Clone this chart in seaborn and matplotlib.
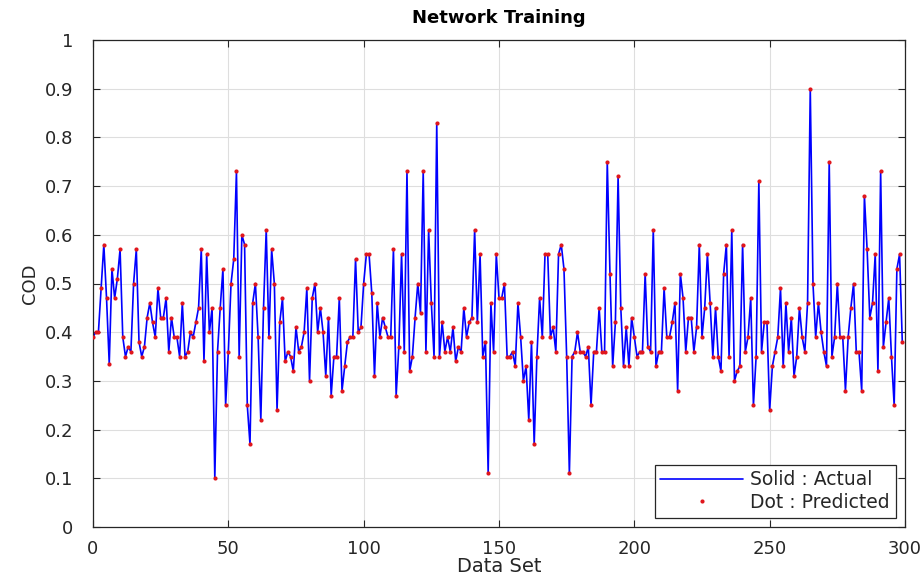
import numpy as np
import pandas as pd
import matplotlib
matplotlib.use("Agg")
import matplotlib.pyplot as plt
import seaborn as sns

cod_actual = [
    0.39, 0.40, 0.40, 0.49, 0.58, 0.47, 0.335, 0.53, 0.47, 0.51,
    0.57, 0.39, 0.35, 0.37, 0.36, 0.50, 0.57, 0.38, 0.35, 0.37,
    0.43, 0.46, 0.42, 0.39, 0.49, 0.43, 0.43, 0.47, 0.36, 0.43,
    0.39,
    0.39, 0.35, 0.46, 0.35, 0.36, 0.40, 0.39, 0.42, 0.45, 0.57,
    0.34, 0.56, 0.40, 0.45, 0.10, 0.36, 0.45, 0.53, 0.25, 0.36,
    0.50, 0.55, 0.73, 0.35, 0.60, 0.58, 0.25, 0.17, 0.46, 0.50,
    0.39, 0.22, 0.45, 0.61, 0.39, 0.57, 0.50, 0.24, 0.42, 0.47,
    0.34, 0.36, 0.35, 0.32, 0.41, 0.36, 0.37, 0.40, 0.49, 0.30,
    0.47, 0.50, 0.40, 0.45, 0.40, 0.31, 0.43, 0.27, 0.35,
    0.35, 0.47, 0.28, 0.33, 0.38, 0.39, 0.39, 0.55, 0.40, 0.41,
    0.50, 0.56, 0.56, 0.48, 0.31, 0.46, 0.39, 0.43, 0.41, 0.39,
    0.39, 0.57, 0.27, 0.37, 0.56, 0.36, 0.73, 0.32, 0.35, 0.43,
    0.50, 0.44, 0.73, 0.36, 0.61, 0.46, 0.35, 0.83, 0.35, 0.42,
    0.36, 0.39, 0.36, 0.41, 0.34, 0.37, 0.36, 0.45, 0.39, 0.42,
    0.43, 0.61, 0.42, 0.56, 0.35, 0.38, 0.11, 0.46, 0.36, 0.56,
    0.47, 0.47, 0.50, 0.35, 0.35, 0.36, 0.33, 0.46, 0.39, 0.30,
    0.33, 0.22, 0.38, 0.17, 0.35, 0.47, 0.39, 0.56, 0.56, 0.39,
    0.41, 0.36, 0.56, 0.58, 0.53, 0.35, 0.11, 0.35, 0.36,
    0.40, 0.36, 0.36, 0.35, 0.37, 0.25, 0.36, 0.36, 0.45, 0.36,
    0.36, 0.75, 0.52, 0.33, 0.42, 0.72, 0.45, 0.33, 0.41, 0.33,
    0.43, 0.39, 0.35, 0.36, 0.36, 0.52, 0.37, 0.36, 0.61, 0.33,
    0.36, 0.36, 0.49, 0.39, 0.39, 0.42, 0.46, 0.28, 0.52, 0.47,
    0.36, 0.43, 0.43, 0.36, 0.41, 0.58, 0.39, 0.45, 0.56, 0.46,
    0.35, 0.45, 0.35, 0.32, 0.52, 0.58, 0.35, 0.61, 0.30,
    0.32, 0.33, 0.58, 0.36, 0.39, 0.47, 0.25, 0.35, 0.71, 0.36,
    0.42, 0.42, 0.24, 0.33, 0.36, 0.39, 0.49, 0.33, 0.46,
    0.36, 0.43, 0.31, 0.35, 0.45, 0.39, 0.36, 0.46, 0.90, 0.50,
    0.39,
    0.46, 0.40, 0.36, 0.33, 0.75, 0.35, 0.39, 0.50, 0.39, 0.39,
    0.28, 0.39, 0.45, 0.50, 0.36, 0.36, 0.28, 0.68, 0.57, 0.43,
    0.46, 0.56, 0.32, 0.73, 0.37, 0.42, 0.47, 0.35, 0.25, 0.53,
    0.56, 0.38,
]
cod_predicted = list(cod_actual)
data_set = list(range(0, len(cod_actual)))

x_ticks = [0, 50, 100, 150, 200, 250, 300]
y_ticks = [0, 0.1, 0.2, 0.3, 0.4, 0.5, 0.6, 0.7, 0.8, 0.9, 1]
y_tick_labels = ["0", "0.1", "0.2", "0.3", "0.4", "0.5", "0.6", "0.7", "0.8", "0.9", "1"]

df = pd.DataFrame({"Data Set": data_set, "Actual": cod_actual, "Predicted": cod_predicted})

sns.set_theme(style="white")
plt.rcParams["font.family"] = ["DejaVu Sans"]

fig = plt.figure(figsize=(9.23, 5.86), dpi=100)
ax = fig.add_axes([93 / 923, 1 - 527 / 586, 812 / 923, 487 / 586])

sns.lineplot(data=df, x="Data Set", y="Actual", color="#0000ff", linewidth=1.2,
             label="Solid : Actual", ax=ax, sort=False, zorder=2)
sns.lineplot(data=df, x="Data Set", y="Predicted", color="#e0161c", linestyle="",
             marker=".", markersize=6, markeredgewidth=0, label="Dot : Predicted",
             ax=ax, sort=False, zorder=3)

ax.set_xlim(0, 300)
ax.set_ylim(0, 1)
ax.set_xticks(x_ticks)
ax.set_yticks(y_ticks)
ax.set_yticklabels(y_tick_labels)
ax.grid(True, color="#dedede", linewidth=0.8)
ax.set_axisbelow(True)
for s in ax.spines.values():
    s.set_color("#262626")
    s.set_linewidth(0.9)
ax.tick_params(direction="in", length=5, width=0.8, colors="#262626",
               labelsize=13, top=True, right=True, labelcolor="#262626",
               bottom=True, left=True)
ax.tick_params(axis="y", pad=14)
ax.tick_params(axis="x", pad=9)
ax.set_title("Network Training", fontsize=13, fontweight="bold", color="black", pad=12)
ax.set_xlabel("Data Set", fontsize=14, color="#262626", labelpad=0)
ax.set_ylabel("COD", fontsize=13, color="#262626", labelpad=4)

leg = ax.legend(loc="lower right", fontsize=13.5, frameon=True, fancybox=False,
                edgecolor="#262626", framealpha=1, borderaxespad=0.5,
                handlelength=4.4, borderpad=0.3, labelspacing=0.2, handletextpad=0.4)
leg.get_frame().set_linewidth(0.9)

fig.savefig("out.png", dpi=100)
